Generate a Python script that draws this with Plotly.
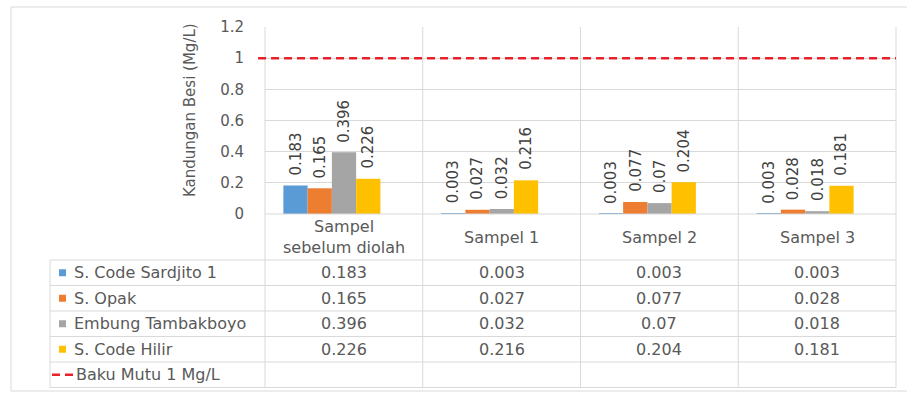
import plotly.graph_objects as go

# ---- data ----
categories = ["Sampel<br>sebelum diolah", "Sampel 1", "Sampel 2", "Sampel 3"]
series_names = ["S. Code Sardjito 1", "S. Opak", "Embung Tambakboyo", "S. Code Hilir"]
sardjito = [0.183, 0.003, 0.003, 0.003]
opak = [0.165, 0.027, 0.077, 0.028]
tambakboyo = [0.396, 0.032, 0.07, 0.018]
hilir = [0.226, 0.216, 0.204, 0.181]
baku_mutu = 1
baku_label = "Baku Mutu 1 Mg/L"
y_ticks = [0, 0.2, 0.4, 0.6, 0.8, 1, 1.2]
y_title = "Kandungan Besi (Mg/L)"

series_values = [sardjito, opak, tambakboyo, hilir]
colors = ["#5B9BD5", "#ED7D31", "#A5A5A5", "#FFC000"]
red = "#E8202A"
grid = "#D9D9D9"
txt = "#595959"
FONT = "DejaVu Sans"
TABLE_FONT = dict(family=FONT, size=16, color=txt)

# ---- page geometry (pixels) ----
W, H = 907, 394
PLOT_L, PLOT_R, PLOT_T, PLOT_B = 265, 896, 27, 214
TABLE_L = 50
HEADER_B = 260
ROW_H = 25.5
N_ROWS = 5
TABLE_B = HEADER_B + N_ROWS * ROW_H
BARGAP = 0.385


def px(x):
    return x / W


def py(y):
    return 1 - y / H


fig = go.Figure()

for name, vals, col in zip(series_names, series_values, colors):
    fig.add_trace(go.Bar(x=categories, y=vals, name=name, marker_color=col,
                         marker_line_width=0, showlegend=False))

shapes = []
annotations = []

# limit line
shapes.append(dict(type="line", xref="x domain", yref="y", x0=-0.011, x1=1,
                   y0=baku_mutu, y1=baku_mutu,
                   line=dict(color=red, width=2.5, dash="8px,5px"), layer="above"))

# column boundaries, through plot and table
n_cat = len(categories)
for k in range(n_cat + 1):
    shapes.append(dict(type="line", xref="x domain", yref="paper", x0=k / n_cat, x1=k / n_cat,
                       y0=py(PLOT_T), y1=py(TABLE_B), line=dict(color=grid, width=1), layer="below"))
# left column of the table
shapes.append(dict(type="line", xref="paper", yref="paper", x0=px(TABLE_L), x1=px(TABLE_L),
                   y0=py(HEADER_B), y1=py(TABLE_B), line=dict(color=grid, width=1)))
# baseline of the plot
shapes.append(dict(type="line", xref="paper", yref="paper", x0=px(PLOT_L), x1=px(PLOT_R),
                   y0=py(PLOT_B), y1=py(PLOT_B), line=dict(color=grid, width=1)))
# table rows
for r in range(N_ROWS + 1):
    yy = HEADER_B + r * ROW_H
    shapes.append(dict(type="line", xref="paper", yref="paper", x0=px(TABLE_L), x1=px(PLOT_R),
                       y0=py(yy), y1=py(yy), line=dict(color=grid, width=1)))
# chart frame
shapes.append(dict(type="rect", xref="paper", yref="paper", x0=px(11), x1=px(912),
                   y0=py(391), y1=py(7), line=dict(color=grid, width=1)))

# value labels above bars
bar_px = (PLOT_R - PLOT_L) / n_cat * (1 - BARGAP) / len(series_names)
for i, vals in enumerate(series_values):
    shift = (i - (len(series_names) - 1) / 2) * bar_px
    for cat, v in zip(categories, vals):
        annotations.append(dict(x=cat, y=v, xref="x", yref="y", text=f"{v:g}",
                                textangle=-90, showarrow=False, yanchor="bottom",
                                xanchor="center", yshift=8, xshift=shift,
                                font=dict(family=FONT, size=15, color="#404040")))

# category header row
header_mid = (PLOT_B + HEADER_B) / 2
for k, cat in enumerate(categories):
    annotations.append(dict(x=(k + 0.5) / n_cat, y=py(header_mid), xref="x domain", yref="paper",
                            text=cat, showarrow=False, xanchor="center", yanchor="middle",
                            font=TABLE_FONT))

# table body: legend keys and values
for r, (name, vals, col) in enumerate(zip(series_names, series_values, colors)):
    yc = HEADER_B + (r + 0.5) * ROW_H
    shapes.append(dict(type="rect", xref="paper", yref="paper", x0=px(59), x1=px(66),
                       y0=py(yc + 3.5), y1=py(yc - 3.5), fillcolor=col, line=dict(width=0)))
    annotations.append(dict(x=px(72), y=py(yc), xref="paper", yref="paper", text=name,
                            showarrow=False, xanchor="left", yanchor="middle",
                            font=TABLE_FONT))
    for k, v in enumerate(vals):
        annotations.append(dict(x=(k + 0.5) / n_cat, y=py(yc), xref="x domain", yref="paper",
                                text=f"{v:g}", showarrow=False, xanchor="center", yanchor="middle",
                                font=TABLE_FONT))

yc = HEADER_B + (N_ROWS - 0.5) * ROW_H
shapes.append(dict(type="line", xref="paper", yref="paper", x0=px(52), x1=px(75),
                   y0=py(yc), y1=py(yc), line=dict(color=red, width=2.5, dash="8px,5px")))
annotations.append(dict(x=px(74), y=py(yc), xref="paper", yref="paper", text=baku_label,
                        showarrow=False, xanchor="left", yanchor="middle",
                        font=TABLE_FONT))

# axis title
annotations.append(dict(x=px(190), y=py(110), xref="paper", yref="paper", text=y_title,
                        textangle=-90, showarrow=False, xanchor="center", yanchor="middle",
                        font=dict(family=FONT, size=15, color=txt)))

offset = 12 / ((PLOT_R - PLOT_L) / n_cat)
fig.update_layout(
    width=W, height=H, autosize=False,
    margin=dict(l=0, r=0, t=0, b=0, pad=0, autoexpand=False),
    paper_bgcolor="white", plot_bgcolor="white",
    font=dict(family=FONT, size=15, color=txt),
    showlegend=False,
    barmode="group", bargap=BARGAP, bargroupgap=0,
    shapes=shapes, annotations=annotations,
    xaxis=dict(domain=[px(PLOT_L), px(PLOT_R)], type="category",
               range=[-0.5 + offset, n_cat - 0.5 + offset], automargin=False,
               showticklabels=False, showgrid=False, zeroline=False, showline=False,
               ticks=""),
    yaxis=dict(domain=[py(PLOT_B), py(PLOT_T)], range=[0, 1.2], tickvals=y_ticks,
               automargin=False,
               showgrid=True, gridcolor=grid, gridwidth=1, zeroline=False, showline=False,
               ticks="", ticklabelstandoff=20,
               tickfont=dict(family=FONT, size=15, color=txt)),
)

fig.write_html("out.html")
